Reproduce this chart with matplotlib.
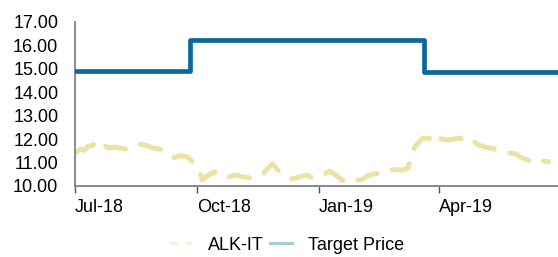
import matplotlib
matplotlib.use("Agg")
import matplotlib.pyplot as plt
from matplotlib.lines import Line2D
import pandas as pd

plt.rcParams['font.family'] = ['Liberation Sans', 'DejaVu Sans']
plt.rcParams['lines.scale_dashes'] = False

# ALK-IT share price
price_dates = [
    "2018-07-02", "2018-07-05", "2018-07-08", "2018-07-11", "2018-07-14", "2018-07-18",
    "2018-07-22", "2018-07-26", "2018-07-31", "2018-08-08", "2018-08-13", "2018-08-18",
    "2018-08-23", "2018-08-29", "2018-09-02", "2018-09-06", "2018-09-11", "2018-09-14",
    "2018-09-18", "2018-09-24", "2018-09-28", "2018-10-02", "2018-10-05", "2018-10-09",
    "2018-10-14", "2018-10-19", "2018-10-22", "2018-10-26", "2018-10-29", "2018-11-04",
    "2018-11-10", "2018-11-15", "2018-11-19", "2018-11-24", "2018-11-27", "2018-12-02",
    "2018-12-07", "2018-12-12", "2018-12-18", "2018-12-23", "2018-12-27", "2018-12-31",
    "2019-01-04", "2019-01-09", "2019-01-15", "2019-01-21", "2019-01-27", "2019-02-03",
    "2019-02-07", "2019-02-11", "2019-02-15", "2019-02-18", "2019-02-25", "2019-03-05",
    "2019-03-09", "2019-03-11", "2019-03-13", "2019-03-14", "2019-03-17", "2019-03-20",
    "2019-03-24", "2019-03-27", "2019-03-31", "2019-04-03", "2019-04-08", "2019-04-12",
    "2019-04-17", "2019-04-23", "2019-04-26", "2019-05-01", "2019-05-05", "2019-05-10",
    "2019-05-15", "2019-05-21", "2019-05-29", "2019-06-03", "2019-06-09", "2019-06-12",
    "2019-06-15", "2019-06-19", "2019-06-23",
]
price_values = [
    11.45, 11.58, 11.52, 11.70, 11.72, 11.96,
    11.80, 11.62, 11.66, 11.58, 11.62, 11.79,
    11.75, 11.62, 11.58, 11.54, 11.37, 11.20,
    11.30, 11.24, 11.00, 10.70, 10.26, 10.45,
    10.60, 10.42, 10.34, 10.40, 10.47, 10.40,
    10.34, 10.38, 10.47, 10.80, 10.94, 10.60,
    10.38, 10.30, 10.40, 10.47, 10.34, 10.40,
    10.47, 10.64, 10.40, 10.13, 10.20, 10.30,
    10.45, 10.51, 10.55, 10.68, 10.70, 10.68,
    10.77, 11.20, 11.50, 11.66, 11.85, 12.05,
    12.00, 12.09, 12.26, 12.00, 11.96, 12.00,
    12.05, 11.88, 11.96, 11.75, 11.68, 11.62,
    11.54, 11.45, 11.37, 11.20, 11.07, 11.12,
    11.20, 11.07, 11.03,
]

# Target price changes
target_dates = ["2018-07-01", "2018-09-26", "2019-03-21", "2019-06-30"]
target_values = [14.92, 16.25, 14.85, 14.85]

tick_dates = ["2018-07-01", "2018-10-01", "2019-01-01", "2019-04-01"]
tick_labels = ["Jul-18", "Oct-18", "Jan-19", "Apr-19"]
y_ticks = [10, 11, 12, 13, 14, 15, 16, 17]

price_color = "#EDE2A6"
target_color = "#0B6A9B"

fig = plt.figure(figsize=(5.58, 2.57), dpi=100)
ax = fig.add_axes([75 / 558, 1 - 186 / 257, 1 - 75 / 558, (186 - 22) / 257])

ax.plot(pd.to_datetime(price_dates), price_values, color=price_color, lw=3.6,
        dashes=(15, 11.5), dash_capstyle='round', solid_joinstyle='round', zorder=2)
ax.step(pd.to_datetime(target_dates), target_values, where='post', color=target_color,
        lw=3.4, solid_joinstyle='round', zorder=3)

ax.set_xlim(pd.Timestamp("2018-07-01"), pd.Timestamp("2019-06-30"))
ax.set_ylim(10, 17)
ax.set_yticks(y_ticks)
ax.set_yticklabels([f"{v:.2f}" for v in y_ticks], fontsize=13)
ax.tick_params(axis='y', length=0, pad=12)

ax.set_xticks(pd.to_datetime(tick_dates))
ax.set_xticklabels(tick_labels, fontsize=13, ha='left')
ax.tick_params(axis='x', length=5, width=1, color="#555555", pad=4, direction='out')

for side in ['top', 'right']:
    ax.spines[side].set_visible(False)
for side in ['left', 'bottom']:
    ax.spines[side].set_color("#808080")
    ax.spines[side].set_linewidth(1.3)

handles = [
    Line2D([], [], color="#F6F1DA", lw=2.2, dashes=(6, 5)),
    Line2D([], [], color="#A9CDDF", lw=2.2),
]
fig.legend(handles, ["ALK-IT", "Target Price"], loc='center', ncol=2,
           bbox_to_anchor=(287 / 558, 1 - 245 / 257), frameon=False, fontsize=13,
           handlelength=1.2, handletextpad=0.9, columnspacing=0.35)

fig.savefig("out.png", dpi=100)
